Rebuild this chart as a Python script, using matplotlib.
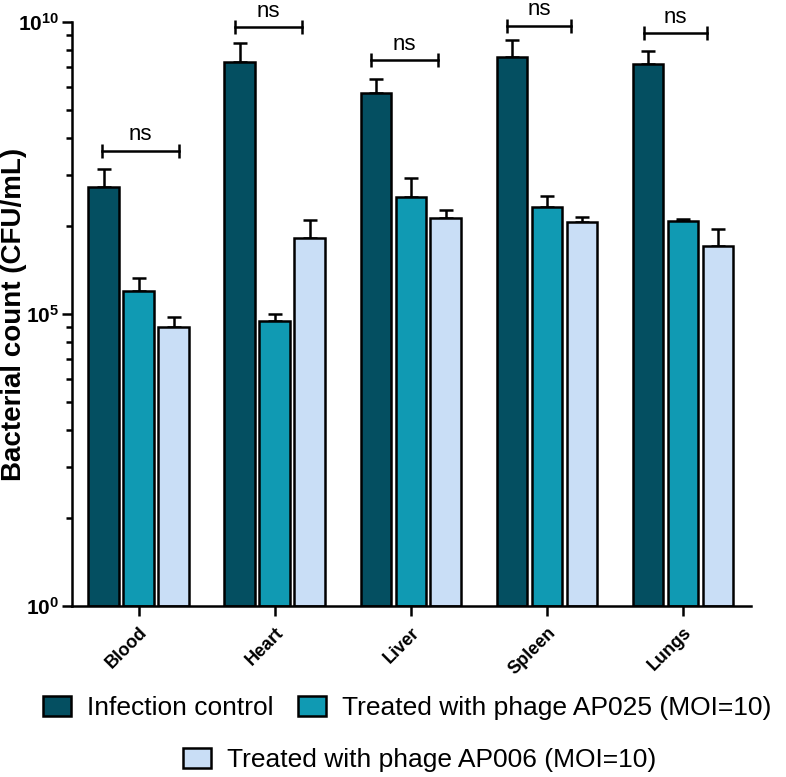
import matplotlib
matplotlib.use('Agg')
import matplotlib.pyplot as plt
import numpy as np
from matplotlib.ticker import FixedLocator, FuncFormatter, NullFormatter
from matplotlib.patches import Patch

# data (CFU/mL, upper error bars only)
categories = ['Blood', 'Heart', 'Liver', 'Spleen', 'Lungs']
infection_control = [1.5e7, 2.1e9, 6.2e8, 2.55e9, 1.9e9]
infection_err = [1.5e7, 2.2e9, 4.3e8, 2.45e9, 1.3e9]
ap025 = [2.5e5, 7.5e4, 1.02e7, 6.9e6, 3.85e6]
ap025_err = [1.6e5, 2.5e4, 1.08e7, 3.7e6, 3.5e5]
ap006 = [5.9e4, 2.0e6, 4.4e6, 3.8e6, 1.48e6]
ap006_err = [3.1e4, 2.0e6, 1.6e6, 7.0e5, 1.32e6]

series_labels = ['Infection control', 'Treated with phage AP025 (MOI=10)',
                 'Treated with phage AP006 (MOI=10)']
colors = ['#044f61', '#109ab3', '#c9def6']

# "ns" brackets: height and span relative to category centre
ns_height = [6.2e7, 8.1e9, 2.2e9, 8.6e9, 6.4e9]
ns_left = [-0.27, -0.29, -0.29, -0.29, -0.29]
ns_right = [0.30, 0.20, 0.20, 0.18, 0.18]

plt.rcParams['font.family'] = ['Liberation Sans', 'DejaVu Sans']
plt.rcParams['mathtext.fontset'] = 'custom'
plt.rcParams['mathtext.rm'] = 'Liberation Sans'
plt.rcParams['mathtext.bf'] = 'Liberation Sans:bold'

fig = plt.figure(figsize=(7.86, 7.77), dpi=100)
ax = fig.add_axes([0.0916, 0.2201, 0.8639, 0.7516])

x = np.arange(len(categories))
width = 0.225
offset = 0.257
lw = 1.8

for i, (vals, errs) in enumerate([(infection_control, infection_err),
                                  (ap025, ap025_err), (ap006, ap006_err)]):
    pos = x + (i - 1) * offset
    ax.bar(pos, np.array(vals) - 1, bottom=1, width=width, color=colors[i],
           edgecolor='black', linewidth=lw, zorder=2)
    ax.errorbar(pos, vals, yerr=[np.zeros(len(vals)), errs], fmt='none',
                ecolor='black', elinewidth=lw, capsize=4.7, capthick=lw, zorder=1)

for i in range(len(categories)):
    x1, x2 = x[i] + ns_left[i], x[i] + ns_right[i]
    ax.plot([x1, x2], [ns_height[i]] * 2, color='black', lw=lw,
            marker='|', markersize=10, mew=lw, clip_on=False)
    ax.annotate('ns', ((x1 + x2) / 2, ns_height[i]), xytext=(0, 4),
                textcoords='offset points', ha='center', va='bottom',
                fontsize=16, annotation_clip=False)

ax.set_yscale('log')
ax.set_ylim(1, 1e10)
ax.set_xlim(-0.49, 4.5)
ax.yaxis.set_major_locator(FixedLocator([1, 1e5, 1e10]))
minor = [k ** 5 * 10.0 ** (5 * n) for n in (0, 1) for k in range(2, 10)]
ax.yaxis.set_minor_locator(FixedLocator(minor))
ax.yaxis.set_minor_formatter(NullFormatter())
ax.yaxis.set_major_formatter(FuncFormatter(
    lambda v, p: r'$\mathbf{10^{%d}}$' % round(np.log10(v))))

ax.set_xticks(x)
ax.set_xticklabels(categories, rotation=45, ha='right', rotation_mode='anchor',
                   fontsize=13, fontweight='bold')
ax.tick_params(axis='y', which='major', length=7, width=lw, labelsize=15, pad=2)
ax.tick_params(axis='y', which='minor', length=4, width=lw)
ax.tick_params(axis='x', length=7, width=lw, pad=6)

for s in ['top', 'right']:
    ax.spines[s].set_visible(False)
for s in ['left', 'bottom']:
    ax.spines[s].set_linewidth(lw)

ax.set_ylabel('Bacterial count (CFU/mL)', fontsize=20, fontweight='bold')
ax.yaxis.set_label_coords(-0.067, 0.5)

handles = [Patch(facecolor=c, edgecolor='black', linewidth=lw) for c in colors]
leg_kw = dict(frameon=False, fontsize=19, handlelength=1.06, handleheight=0.83,
              handletextpad=0.6, columnspacing=0.95, borderpad=0, loc='center')
fig.legend(handles[:2], series_labels[:2], ncol=2,
           bbox_to_anchor=(407 / 786, 1 - 708 / 777), **leg_kw)
fig.legend(handles[2:], series_labels[2:], ncol=1,
           bbox_to_anchor=(420 / 786, 1 - 760 / 777), **leg_kw)

fig.savefig('out.png', dpi=100)
